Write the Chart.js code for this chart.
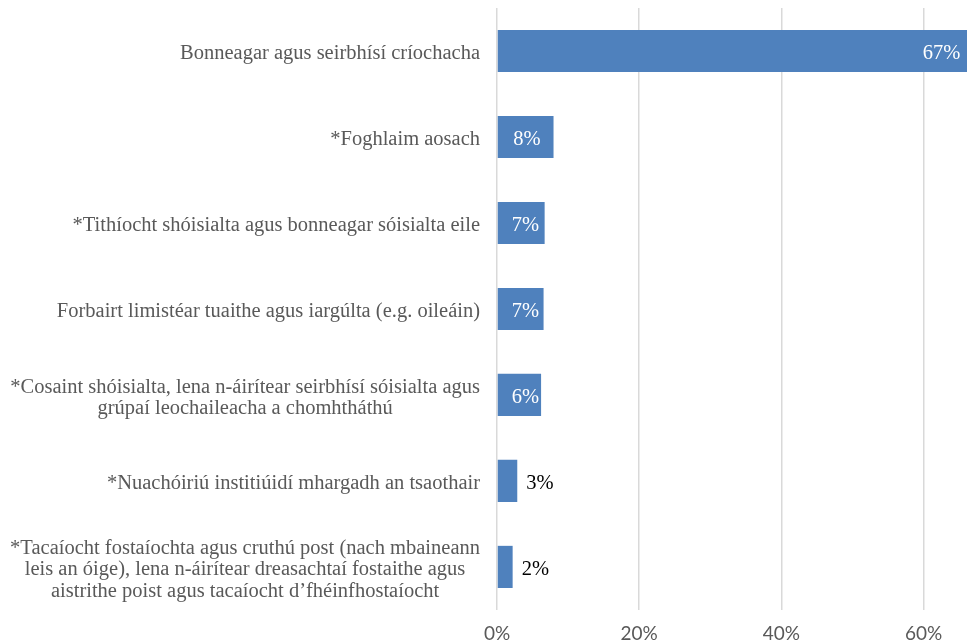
<!DOCTYPE html>
<html><head><meta charset="utf-8">
<script src="https://cdn.jsdelivr.net/npm/chart.js@4/dist/chart.umd.min.js"></script>
<style>html,body{margin:0;padding:0;background:#fff;overflow:hidden}#wrap{width:967px;height:644px;position:relative;overflow:hidden}</style>
</head><body><div id="wrap"><canvas id="c" width="967" height="644"></canvas></div>
<script>
const categories = [
  ["Bonneagar agus seirbhísí críochacha"],
  ["*Foghlaim aosach"],
  ["*Tithíocht shóisialta agus bonneagar sóisialta eile"],
  ["Forbairt limistéar tuaithe agus iargúlta (e.g. oileáin)"],
  ["*Cosaint shóisialta, lena n-áirítear seirbhísí sóisialta agus", "grúpaí leochaileacha a chomhtháthú"],
  ["*Nuachóiriú institiúidí mhargadh an tsaothair"],
  ["*Tacaíocht fostaíochta agus cruthú post (nach mbaineann", "leis an óige), lena n-áirítear dreasachtaí fostaithe agus", "aistrithe poist agus tacaíocht d’fhéinfhostaíocht"]
];
const values = [67, 7.95, 6.7, 6.55, 6.2, 2.85, 2.2];
const valueLabels = ["67%", "8%", "7%", "7%", "6%", "3%", "2%"];
const xTickValues = [0, 20, 40, 60];
const xMax = 66.1;

const SERIF = '"Liberation Serif", "Times New Roman", serif';

const labelPlugin = {
  id: 'labels',
  afterDatasetsDraw(chart) {
    const ctx = chart.ctx;
    const meta = chart.getDatasetMeta(0);
    const yScale = chart.scales.y;
    const area = chart.chartArea;
    ctx.save();
    // value labels
    ctx.font = '20.5px ' + SERIF;
    ctx.textBaseline = 'middle';
    ctx.textAlign = 'left';
    meta.data.forEach((bar, i) => {
      const txt = valueLabels[i];
      const w = ctx.measureText(txt).width;
      const start = bar.base, end = bar.x;
      const barW = end - start;
      let x, color;
      if (barW >= w + 14) {
        x = Math.max(start + 14, end - 13 - w);
        color = '#ffffff';
      } else {
        x = end + 9;
        color = '#000000';
      }
      ctx.fillStyle = color;
      ctx.fillText(txt, x, bar.y + 3);
    });
    // category labels
    ctx.font = '20.5px ' + SERIF;
    ctx.fillStyle = '#595959';
    ctx.textAlign = 'center';
    const lh = 21.5;
    const right = area.left - 17;
    categories.forEach((lines, i) => {
      const cy = yScale.getPixelForValue(i);
      const widths = lines.map(l => ctx.measureText(l).width);
      const bw = Math.max(...widths);
      const cx = right - bw / 2;
      const top = cy - (lines.length - 1) * lh / 2;
      lines.forEach((l, k) => ctx.fillText(l, cx, top + k * lh + 3));
    });
    ctx.restore();
  }
};

new Chart(document.getElementById('c'), {
  type: 'bar',
  data: {
    labels: categories.map(c => c.join(' ')),
    datasets: [{
      data: values,
      backgroundColor: '#4f81bd',
      borderWidth: 0,
      barPercentage: 0.98,
      categoryPercentage: 0.5,
      clip: false
    }]
  },
  options: {
    indexAxis: 'y',
    responsive: false,
    animation: false,
    devicePixelRatio: 1,
    layout: { padding: { top: 8, right: 0, bottom: -14, left: 0 } },
    plugins: { legend: { display: false }, tooltip: { enabled: false } },
    scales: {
      x: {
        min: 0,
        max: xMax,
        afterBuildTicks: s => { s.ticks = xTickValues.map(v => ({ value: v })); },
        ticks: {
          callback: v => v + '%',
          color: '#595959',
          font: { family: 'Lato', size: 19, lineHeight: 1.1 },
          padding: 13.6,
          maxRotation: 0
        },
        grid: { color: '#d9d9d9', lineWidth: 1.5, drawTicks: false },
        border: { display: false }
      },
      y: {
        ticks: { display: false },
        grid: { display: false, drawTicks: false },
        border: { display: false },
        afterFit: s => { s.width = 497; }
      }
    }
  },
  plugins: [labelPlugin]
});
</script>
</body></html>
